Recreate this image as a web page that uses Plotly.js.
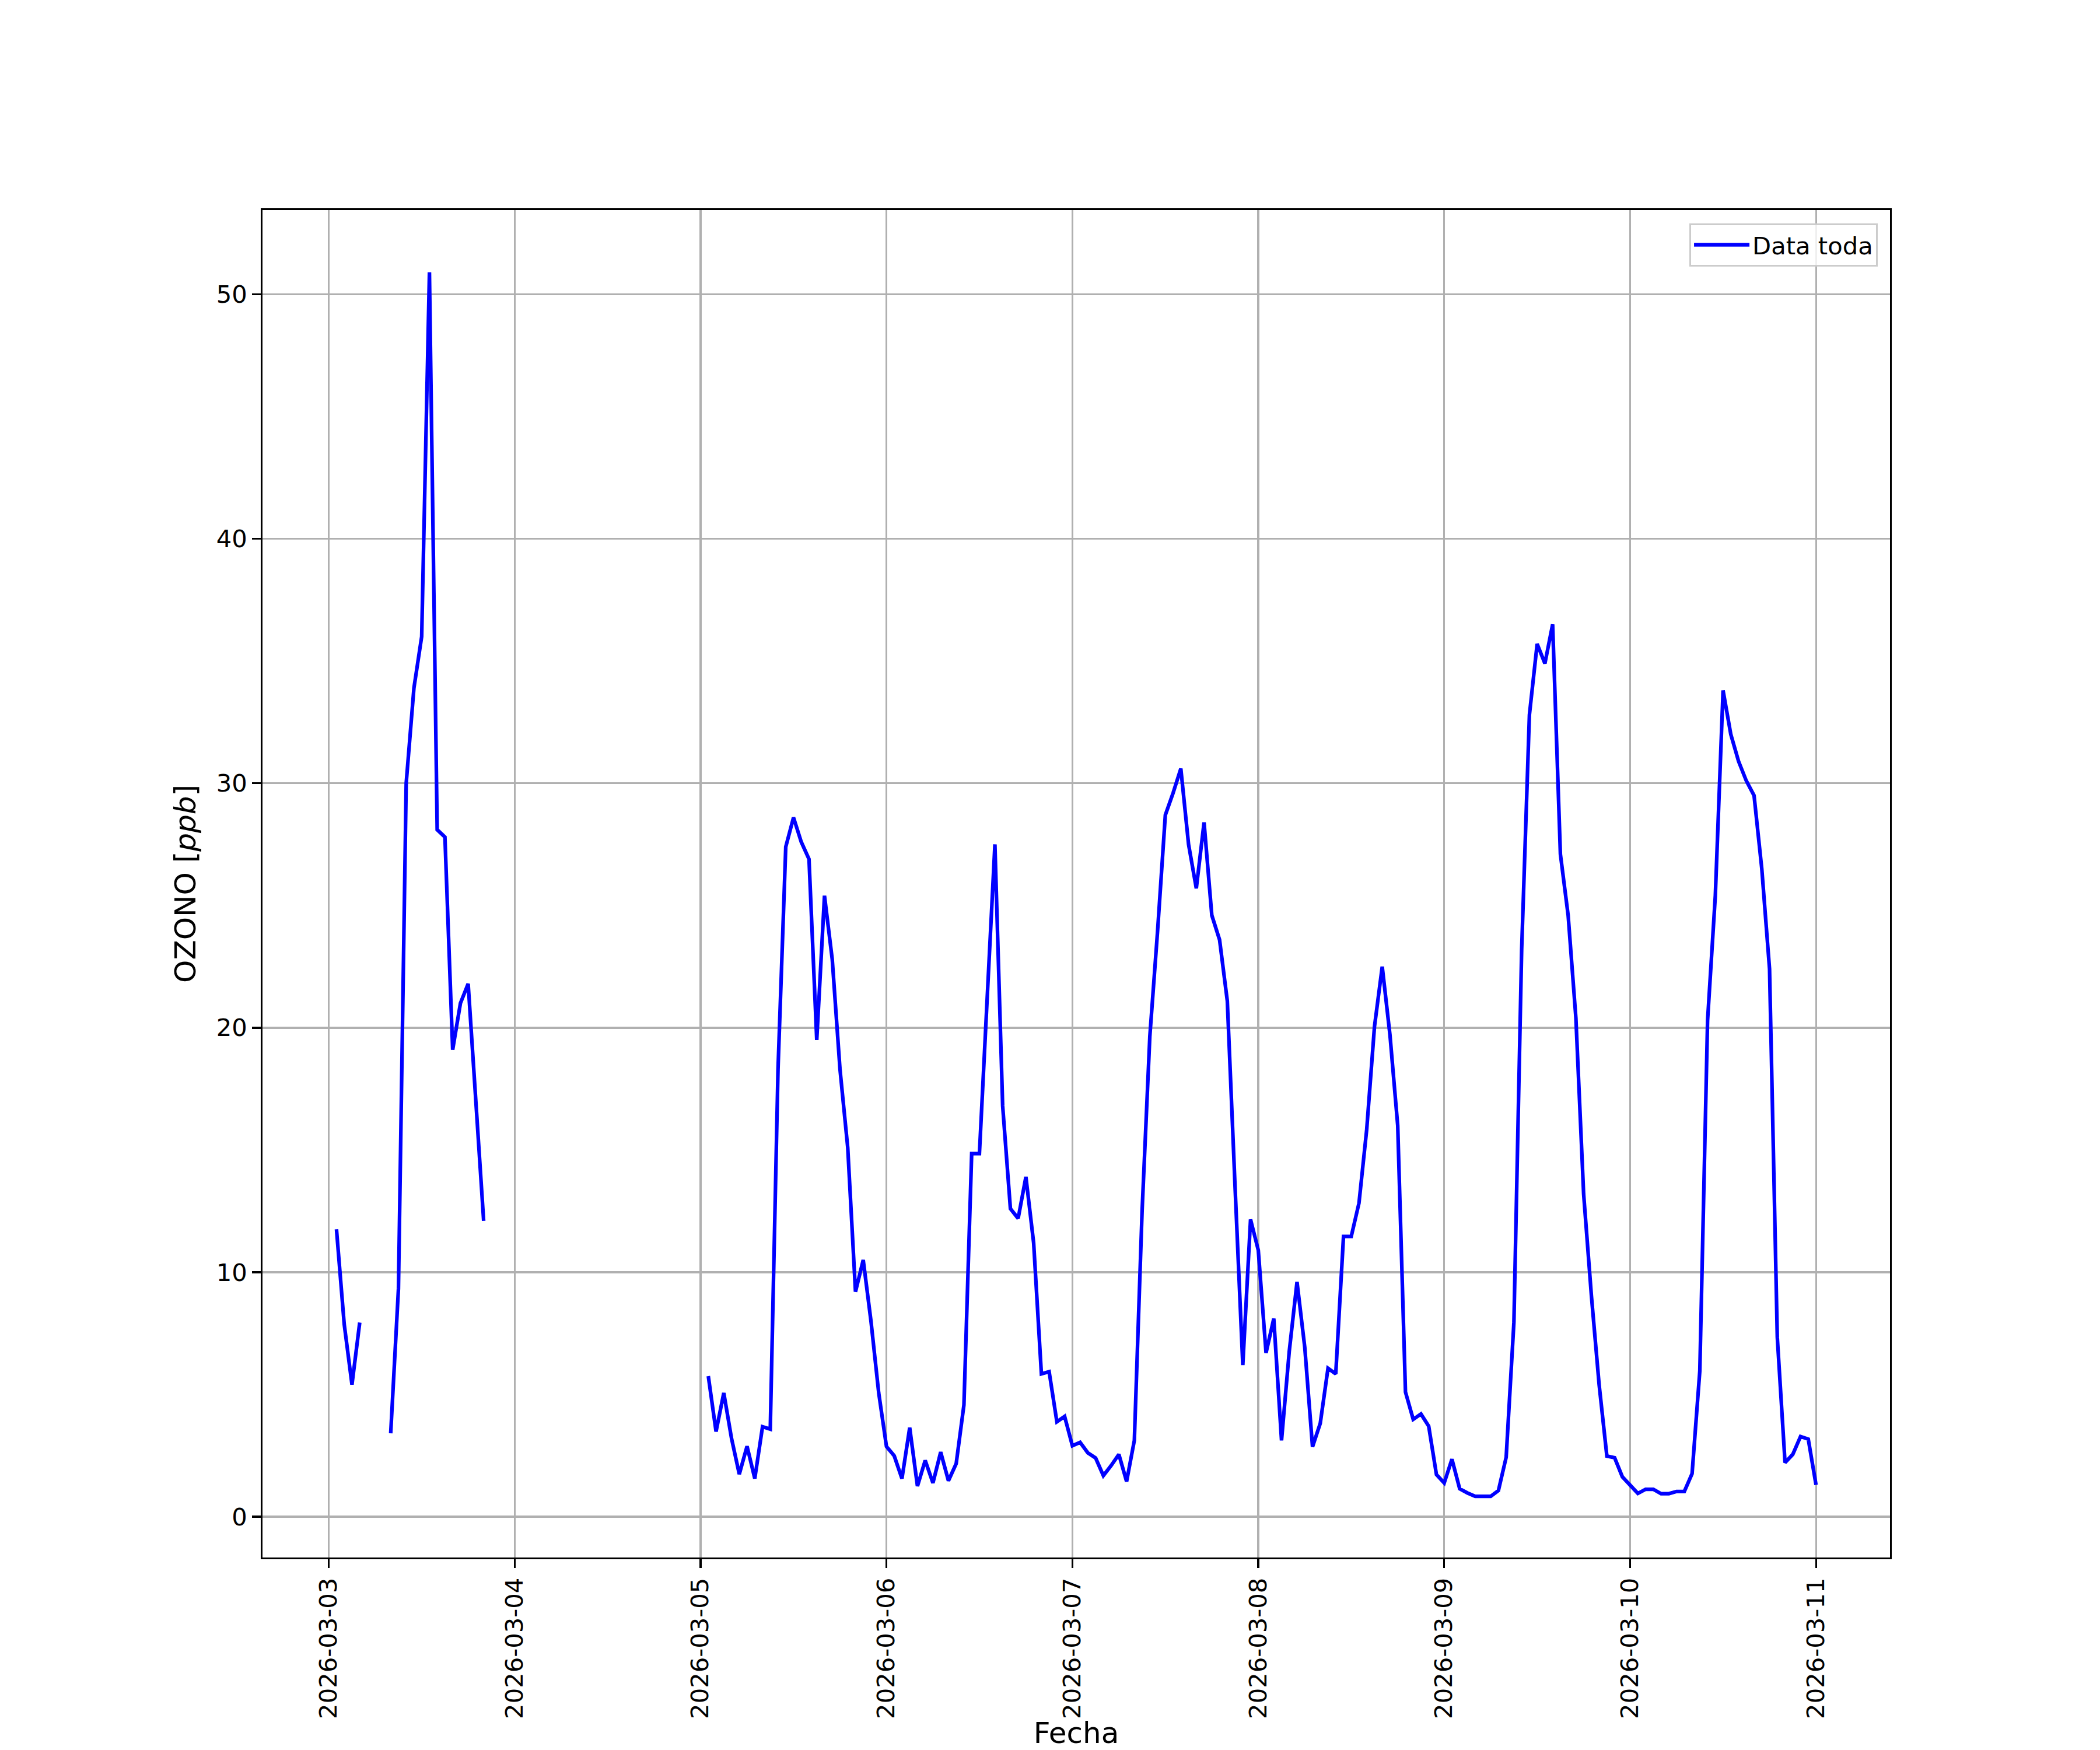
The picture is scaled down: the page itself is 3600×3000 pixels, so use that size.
<!DOCTYPE html>
<html>
<head>
<meta charset="utf-8">
<script src="https://cdn.plot.ly/plotly-3.0.1.min.js"></script>
<style>html,body{margin:0;padding:0;background:#fff;}#chart{width:3600px;height:3000px;}</style>
</head>
<body>
<div id="chart"></div>
<script>
// Hourly OZONO [ppb] values, index = hour of day (0..23); null = missing
const days = ['2026-03-03','2026-03-04','2026-03-05','2026-03-06','2026-03-07','2026-03-08','2026-03-09','2026-03-10'];
const oz_0303 = [null,11.76,7.87,5.4,7.94,null,null,null,3.41,9.32,30.0,33.9,36.0,50.9,28.1,27.8,19.1,21.0,21.8,16.7,12.1,null,null,null];
const oz_0304 = [null,null,null,null,null,null,null,null,null,null,null,null,null,null,null,null,null,null,null,null,null,null,null,null];
const oz_0305 = [null,5.75,3.48,5.06,3.2,1.74,2.88,1.56,3.68,3.58,18.3,27.4,28.6,27.6,26.9,19.5,25.4,22.8,18.3,15.1,9.2,10.5,8.0,5.06];
const oz_0306 = [2.87,2.49,1.56,3.64,1.25,2.30,1.38,2.64,1.47,2.17,4.57,14.85,14.85,21.2,27.5,16.8,12.6,12.2,13.9,11.2,5.84,5.93,3.88,4.1];
const oz_0307 = [2.9,3.04,2.61,2.40,1.68,2.09,2.55,1.44,3.12,12.5,19.65,23.96,28.7,29.6,30.6,27.5,25.7,28.4,24.6,23.6,21.1,13.5,6.2,12.16];
const oz_0308 = [10.9,6.7,8.1,3.12,6.77,9.6,6.93,2.86,3.82,6.07,5.84,11.46,11.46,12.83,15.85,20.05,22.5,19.7,16.0,5.1,3.98,4.2,3.7,1.72];
const oz_0309 = [1.38,2.35,1.14,0.97,0.83,0.83,0.83,1.07,2.43,7.96,23.2,32.8,35.7,34.9,36.5,27.1,24.6,20.4,13.2,9.05,5.4,2.48,2.41,1.63];
const oz_0310 = [1.28,0.95,1.12,1.12,0.94,0.94,1.03,1.03,1.76,5.97,20.3,25.4,33.8,32.0,30.9,30.1,29.5,26.5,22.4,7.34,2.21,2.55,3.28,3.17];
const lastTime = '2026-03-11 00:00';
const lastValue = 1.3;

const yTicks = [0,10,20,30,40,50];
const xTickDays = ['2026-03-03','2026-03-04','2026-03-05','2026-03-06','2026-03-07','2026-03-08','2026-03-09','2026-03-10','2026-03-11'];

const perDay = [oz_0303,oz_0304,oz_0305,oz_0306,oz_0307,oz_0308,oz_0309,oz_0310];
const xs = [], ys = [];
perDay.forEach((arr, d) => {
  arr.forEach((v, h) => {
    xs.push(days[d] + ' ' + String(h).padStart(2,'0') + ':00');
    ys.push(v);
  });
});
xs.push(lastTime); ys.push(lastValue);

const FONT = 'DejaVu Sans, sans-serif';
const FS = 41.7;
const FS_LABEL = 50;
const LW = 3.33;

const trace = {
  x: xs, y: ys, type: 'scatter', mode: 'lines', name: 'Data toda',
  connectgaps: false,
  line: {color: '#0000ff', width: 6.25}
};

const layout = {
  width: 3600, height: 3000,
  paper_bgcolor: '#ffffff', plot_bgcolor: '#ffffff',
  margin: {l: 450, r: 360, t: 360, b: 330, pad: 0},
  font: {family: FONT, size: FS, color: '#000'},
  showlegend: true,
  legend: {
    x: 0.9925, y: 0.990, xanchor: 'right', yanchor: 'top',
    bgcolor: 'rgba(255,255,255,0.8)', bordercolor: '#cccccc', borderwidth: 3,
    font: {family: FONT, size: FS, color: '#000'},
    itemwidth: 95
  },
  xaxis: {
    type: 'date',
    range: ['2026-03-02 15:27', '2026-03-11 09:33'],
    tickmode: 'array',
    tickvals: xTickDays,
    ticktext: xTickDays,
    tickangle: -90,
    ticks: 'outside', ticklen: 14.6, tickwidth: LW, tickcolor: '#000',
    tickfont: {family: FONT, size: FS, color: '#000'},
    showgrid: true, gridcolor: '#b0b0b0', gridwidth: LW,
    showline: true, linecolor: '#000', linewidth: LW, mirror: true,
    zeroline: false,
    automargin: false,
    title: {text: 'Fecha', font: {family: FONT, size: FS_LABEL, color: '#000'}, standoff: 20}
  },
  yaxis: {
    range: [-1.67, 53.45],
    tickmode: 'array', tickvals: yTicks, ticktext: yTicks.map(String),
    ticks: 'outside', ticklen: 14.6, tickwidth: LW, tickcolor: '#000',
    tickfont: {family: FONT, size: FS, color: '#000'},
    showgrid: true, gridcolor: '#b0b0b0', gridwidth: LW,
    showline: true, linecolor: '#000', linewidth: LW, mirror: true,
    zeroline: false,
    automargin: false,
    title: {text: 'OZONO [<i>ppb</i>]', font: {family: FONT, size: FS_LABEL, color: '#000'}, standoff: 20}
  }
};

Plotly.newPlot('chart', [trace], layout, {displayModeBar: false, staticPlot: true});
</script>
</body>
</html>
